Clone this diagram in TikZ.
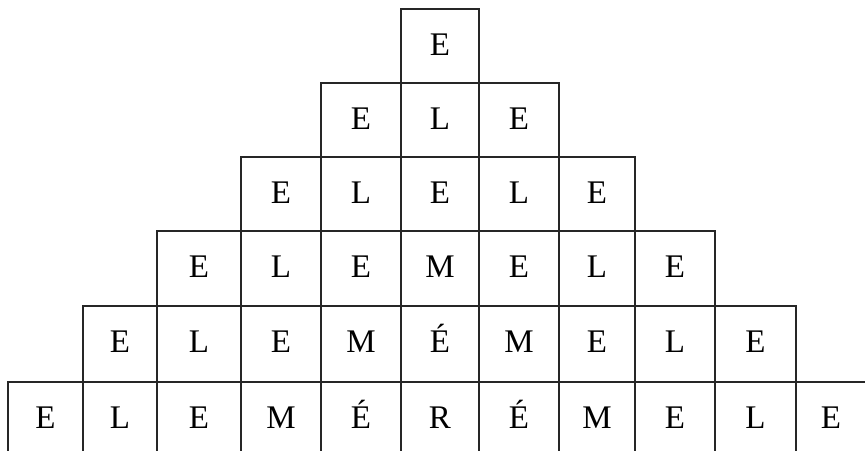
\documentclass[tikz,border=0pt]{standalone}
\usepackage{fontspec}
\setmainfont{Liberation Serif}
\usepackage{tikz}

\begin{document}
\begin{tikzpicture}[x=1pt, y=-1pt,
    cellbox/.style={draw=black!85, line width=2pt},
    letter/.style={anchor=base, inner sep=0pt, font=\fontsize{33}{38}\selectfont}]
  \useasboundingbox (0,0) rectangle (865,450);
  \clip (0,0) rectangle (865,450);
  % column edges and row tops
  \def\colx{{8,83,157,241,321,401,479,559,635,715,796,866}}
  \def\rowy{{9,83,157,231,306,382,457}}
  % each row: index / first column / letters
  \foreach \r/\first/\letters in {0/5/{E}, 1/4/{E,L,E}, 2/3/{E,L,E,L,E},
      3/2/{E,L,E,M,E,L,E}, 4/1/{E,L,E,M,É,M,E,L,E},
      5/0/{E,L,E,M,É,R,É,M,E,L,E}} {
    \foreach \t [count=\k from 0] in \letters {
      \pgfmathsetmacro\xa{\colx[\first+\k]}
      \pgfmathsetmacro\xb{\colx[\first+\k+1]}
      \pgfmathsetmacro\ya{\rowy[\r]}
      \pgfmathsetmacro\yb{\rowy[\r+1]}
      \draw[cellbox] (\xa,\ya) rectangle (\xb,\yb);
      \node[letter] (l\r-\k) at ({(\xa+\xb)/2},\ya+46) {\t};
    }
  }
\end{tikzpicture}
\end{document}
